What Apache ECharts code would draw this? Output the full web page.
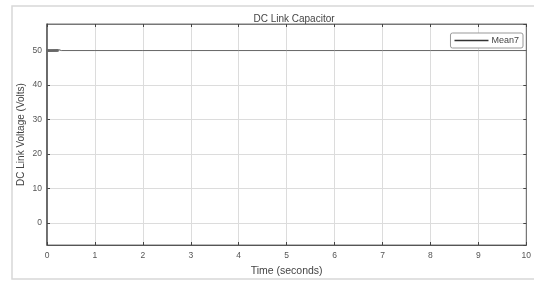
<!DOCTYPE html>
<html>
<head>
<meta charset="utf-8">
<script src="https://cdn.jsdelivr.net/npm/echarts@6/dist/echarts.min.js"></script>
<style>
  html, body { margin: 0; padding: 0; background: #fff; }
  #chart { width: 534px; height: 282px; }
</style>
</head>
<body>
<div id="chart"></div>
<script>
// time (s) and DC link voltage (V)
const timeValues = [0, 0.001, 0.01, 0.02, 0.03, 0.04, 0.05, 0.06, 0.07, 0.08, 0.09, 0.1, 0.11, 0.12, 0.13, 0.14, 0.15, 0.16, 0.17, 0.18, 0.19, 0.2, 0.21, 0.22, 0.23, 0.24, 0.25, 0.26, 0.27, 0.28, 0.3, 1, 2, 3, 4, 5, 6, 7, 8, 9, 10]
const voltageValues = [0, 50.4, 49.6, 50.4, 49.6, 50.4, 49.6, 50.4, 49.6, 50.4, 49.6, 50.4, 49.6, 50.4, 49.6, 50.4, 49.6, 50.4, 49.6, 50.4, 49.6, 50.4, 49.6, 50.4, 49.7, 50.3, 49.8, 50.2, 49.9, 50.1, 50, 50, 50, 50, 50, 50, 50, 50, 50, 50, 50]
const yTicks = [0, 10, 20, 30, 40, 50]

const chart = echarts.init(document.getElementById('chart'))

const fontFam = 'Liberation Sans, Arial, sans-serif'
const frameColor = '#777'

const option = {
  animation: false,
  backgroundColor: '#fff',
  textStyle: { fontFamily: fontFam },
  graphic: [{
    type: 'rect',
    shape: { x: 12, y: 6, width: 530, height: 273 },
    style: { fill: 'none', stroke: '#d8d8d8', lineWidth: 1.5 },
    z: -10
  }],
  title: {
    text: 'DC Link Capacitor',
    left: 289, top: 9, textAlign: 'center',
    textStyle: { fontSize: 10, fontWeight: 'normal', color: '#444', fontFamily: fontFam }
  },
  legend: {
    right: 11, top: 33,
    padding: [3, 4],
    borderColor: '#999', borderWidth: 1, borderRadius: 2,
    backgroundColor: '#fff',
    itemWidth: 34, itemHeight: 1.5, itemGap: 4,
    icon: 'rect',
    textStyle: { fontSize: 9, color: '#444', padding: [0, 0, 0, -2] },
    data: ['Mean7']
  },
  grid: { left: 47, top: 24, right: 3, bottom: 37, show: true, borderColor: frameColor, borderWidth: 1 },
  xAxis: [{
    type: 'value', min: 0, max: 10, interval: 1,
    name: 'Time (seconds)', nameLocation: 'middle', nameGap: 21, nameMoveOverlap: false,
    nameTextStyle: { fontSize: 10.5, color: '#444' },
    axisLine: { show: true, onZero: false, lineStyle: { color: '#555' } },
    axisTick: { show: true, inside: true, length: 3, lineStyle: { color: '#444' } },
    axisLabel: { fontSize: 8.5, color: '#555', margin: 6 },
    splitLine: { show: true, lineStyle: { color: '#dcdcdc' } }
  }, {
    type: 'value', min: 0, max: 10, interval: 1, position: 'top',
    axisLine: { show: true, onZero: false, lineStyle: { color: frameColor } },
    axisTick: { show: true, inside: true, length: 3, lineStyle: { color: '#444' } },
    axisLabel: { show: false }, splitLine: { show: false }
  }],
  yAxis: [{
    type: 'value', min: -6.4, max: 57.7, minInterval: 10, maxInterval: 10,
    name: 'DC Link Voltage (Volts)', nameLocation: 'middle', nameGap: 21, nameMoveOverlap: false,
    nameTextStyle: { fontSize: 10, color: '#444' },
    axisLine: { show: true, onZero: false, lineStyle: { color: '#555', width: 1.5 } },
    axisTick: { show: true, inside: true, length: 3, lineStyle: { color: '#444' } },
    axisLabel: {
      fontSize: 8.5, color: '#555', margin: 5, showMinLabel: false, showMaxLabel: false,
      formatter: v => (yTicks.indexOf(v) >= 0 ? String(v) : '')
    },
    splitLine: { show: true, lineStyle: { color: '#dcdcdc' } }
  }, {
    type: 'value', min: -6.4, max: 57.7, minInterval: 10, maxInterval: 10, position: 'right',
    axisLine: { show: true, onZero: false, lineStyle: { color: frameColor } },
    axisTick: { show: true, inside: true, length: 3, lineStyle: { color: '#444' } },
    axisLabel: { show: false }, splitLine: { show: false }
  }],
  series: [{
    name: 'Mean7',
    type: 'line',
    showSymbol: false,
    symbol: 'none',
    itemStyle: { color: '#333' },
    lineStyle: { color: '#666', width: 1 },
    data: timeValues.map((t, i) => [t, voltageValues[i]])
  }]
}

chart.setOption(option)
</script>
</body>
</html>
